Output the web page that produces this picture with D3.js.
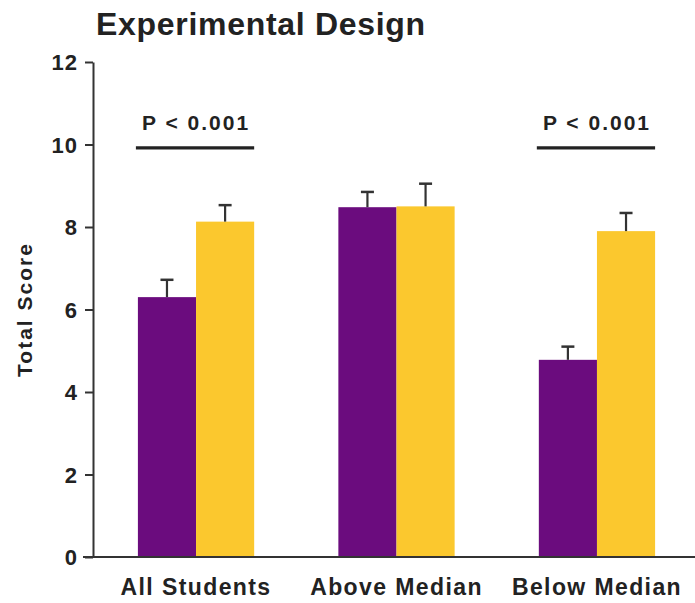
<!DOCTYPE html>
<html>
<head>
<meta charset="utf-8">
<script src="https://cdn.jsdelivr.net/npm/d3@7"></script>
<style>
  body { margin: 0; background: #fff; }
  text { font-family: "Liberation Sans", Arial, Helvetica, sans-serif; font-weight: bold; fill: #222; }
</style>
</head>
<body>
<div class="graph"></div>
<script>
// values
var groups = ["All Students", "Above Median", "Below Median"];
var series = ["control", "experimental"];
var controlValues = [6.3, 8.48, 4.78];
var controlErrors = [0.42, 0.37, 0.32];
var expValues = [8.13, 8.5, 7.9];
var expErrors = [0.4, 0.55, 0.44];
var yTicks = [0, 2, 4, 6, 8, 10, 12];
var sigLabels = [
    { group: "All Students", text: "P < 0.001" },
    { group: "Below Median", text: "P < 0.001" }
];
var colors = ["#6b0c7e", "#fbc82e"];

var width = 695, height = 603;
var margin = { top: 62, right: -5, bottom: 46, left: 93 };

var svg = d3.select(".graph").append("svg")
    .attr("width", width)
    .attr("height", height);

var x = d3.scaleBand()
    .domain(groups)
    .range([margin.left, width - margin.right])
    .paddingInner(0.42)
    .paddingOuter(0.224);
var xs = d3.scaleBand().domain(series).range([0, x.bandwidth()]);
var y = d3.scaleLinear().domain([0, 12]).range([height - margin.bottom, margin.top]);

// build rows for bars
var data = [];
groups.forEach(function (g, i) {
    data.push({ group: g, s: "control", value: controlValues[i], err: controlErrors[i], c: colors[0] });
    data.push({ group: g, s: "experimental", value: expValues[i], err: expErrors[i], c: colors[1] });
});

// bars
svg.append("g").selectAll("rect")
    .data(data)
    .enter().append("rect")
    .attr("x", function (d) { return x(d.group) + xs(d.s); })
    .attr("y", function (d) { return y(d.value); })
    .attr("width", xs.bandwidth())
    .attr("height", function (d) { return y(0) - y(d.value); })
    .attr("fill", function (d) { return d.c; });

// error bars (upper only)
var eb = svg.append("g").attr("stroke", "#333");
data.forEach(function (d) {
    var cx = x(d.group) + xs(d.s) + xs.bandwidth() / 2;
    eb.append("line")
        .attr("x1", cx).attr("x2", cx)
        .attr("y1", y(d.value)).attr("y2", y(d.value + d.err))
        .attr("stroke-width", 2.2);
    eb.append("line")
        .attr("x1", cx - 6.5).attr("x2", cx + 6.5)
        .attr("y1", y(d.value + d.err)).attr("y2", y(d.value + d.err))
        .attr("stroke-width", 2.5);
});

// y axis
var yAxis = svg.append("g")
    .attr("transform", "translate(" + margin.left + ",0)")
    .call(d3.axisLeft(y).tickValues(yTicks).tickSize(8).tickSizeOuter(0).tickPadding(7));
yAxis.select(".domain").attr("stroke", "#333").attr("stroke-width", 2);
yAxis.selectAll(".tick line").attr("stroke", "#333").attr("stroke-width", 2);
yAxis.selectAll(".tick text")
    .attr("font-size", 22)
    .attr("letter-spacing", 1)
    .attr("dy", "0.36em")
    .attr("font-family", null)
    .attr("fill", "#222");

// x axis
var xAxis = svg.append("g")
    .attr("transform", "translate(0," + y(0) + ")")
    .call(d3.axisBottom(x).tickSize(0).tickPadding(22));
xAxis.select(".domain").remove();
xAxis.selectAll(".tick text")
    .attr("font-size", 23)
    .attr("letter-spacing", 1.4)
    .attr("font-family", null)
    .attr("fill", "#222");
svg.append("line")
    .attr("x1", 83).attr("x2", width)
    .attr("y1", y(0)).attr("y2", y(0))
    .attr("stroke", "#333").attr("stroke-width", 2);

// significance markers
sigLabels.forEach(function (s) {
    var x0 = x(s.group) - 2, x1 = x(s.group) + x.bandwidth();
    svg.append("line")
        .attr("x1", x0).attr("x2", x1)
        .attr("y1", y(9.92)).attr("y2", y(9.92))
        .attr("stroke", "#222").attr("stroke-width", 3.2);
    svg.append("text")
        .attr("x", (x0 + x1) / 2 + 1)
        .attr("y", y(10.35))
        .attr("text-anchor", "middle")
        .attr("font-size", 21)
        .attr("letter-spacing", 2)
        .text(s.text);
});

// title
svg.append("text")
    .attr("x", 96)
    .attr("y", 35)
    .attr("font-size", 32)
    .attr("letter-spacing", 0.7)
    .text("Experimental Design");

// y label
svg.append("text")
    .attr("transform", "translate(32," + y(6) + ") rotate(-90)")
    .attr("text-anchor", "middle")
    .attr("font-size", 21)
    .attr("letter-spacing", 2)
    .text("Total Score");
</script>
</body>
</html>
